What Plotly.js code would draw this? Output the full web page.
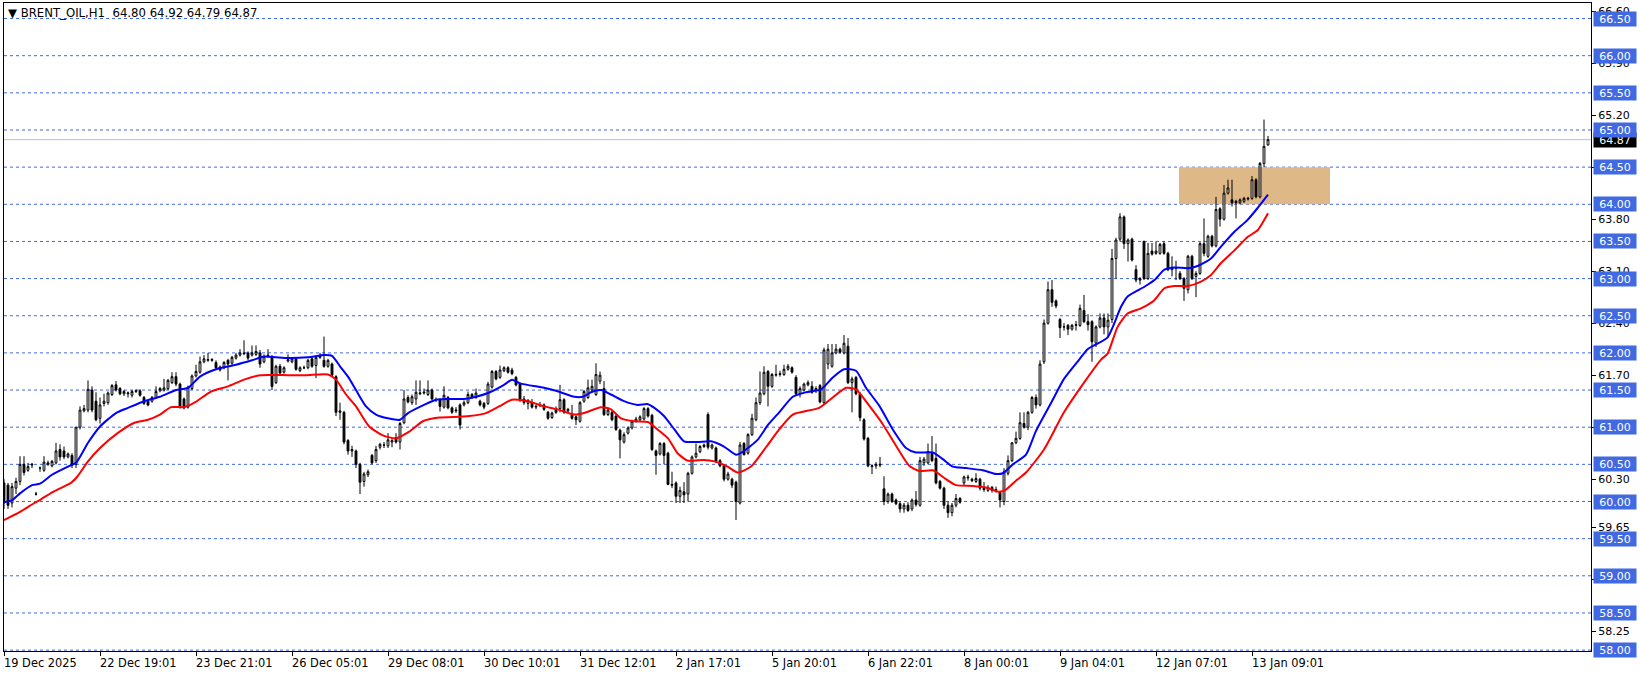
<!DOCTYPE html>
<html><head><meta charset="utf-8">
<script src="https://cdn.plot.ly/plotly-3.0.1.min.js"></script>
<style>html,body{margin:0;padding:0;background:#fff;overflow:hidden}#chart{width:1641px;height:675px}</style>
</head><body><div id="chart"></div>
<script>
// ---- data: hourly bars, index 0 = first visible bar ----
const opens=[
60.25,60.22,59.98,60.18,60.27,60.50,60.42,60.49,60.10,60.45,
60.42,60.50,60.48,60.52,60.70,60.68,60.60,60.62,60.50,61.00,
61.22,61.23,61.50,61.35,61.12,61.32,61.33,61.44,61.57,61.52,
61.45,61.45,61.43,61.48,61.49,61.40,61.35,61.35,61.40,61.49,
61.50,61.52,61.60,61.68,61.58,61.38,61.27,61.52,61.69,61.74,
61.88,61.90,61.90,61.87,61.81,61.80,61.90,61.86,61.93,61.97,
62.00,62.00,61.97,61.98,62.00,61.88,61.97,61.95,61.60,61.82,
61.74,61.89,61.88,61.92,61.76,61.80,61.80,61.92,61.83,61.94,
61.90,61.82,61.85,61.68,61.20,61.20,60.82,60.68,60.68,60.50,
60.27,60.36,60.62,60.55,60.73,60.76,60.75,60.80,60.86,60.80,
61.06,61.40,61.33,61.38,61.45,61.46,61.44,61.50,61.37,61.37,
61.27,61.40,61.26,61.22,61.30,61.30,61.33,61.44,61.40,61.35,
61.32,61.32,61.54,61.75,61.67,61.76,61.80,61.77,61.67,61.58,
61.38,61.32,61.33,61.27,61.30,61.30,61.20,61.13,61.25,61.25,
61.37,61.22,61.17,61.14,61.08,61.35,61.40,61.50,61.44,61.62,
61.52,61.17,61.20,61.15,60.96,60.80,60.92,60.99,61.08,61.10,
61.11,61.25,61.16,60.68,60.64,60.78,60.65,60.23,60.25,60.07,
60.13,60.10,60.38,60.60,60.67,60.74,61.17,60.72,60.72,60.55,
60.48,60.30,60.30,60.26,59.98,60.78,60.65,60.90,61.10,61.33,
61.45,61.75,61.55,61.70,61.71,61.71,61.78,61.80,61.67,61.45,
61.50,61.57,61.55,61.50,61.56,61.33,61.85,61.82,62.00,62.05,
62.00,62.09,61.60,61.67,61.45,61.10,60.85,60.47,60.48,60.49,
60.17,60.00,60.10,60.02,59.97,59.90,59.95,59.90,60.02,59.95,
60.52,60.52,60.65,60.58,60.27,60.18,59.95,59.85,59.95,60.04,
60.25,60.33,60.30,60.27,60.30,60.18,60.15,60.19,60.15,60.12,
60.00,60.38,60.55,60.79,60.85,61.05,61.00,61.20,61.40,61.30,
61.88,62.40,62.85,62.70,62.45,62.35,62.37,62.32,62.37,62.37,
62.57,62.42,62.42,62.13,62.35,62.47,62.35,62.45,63.27,63.53,
63.83,63.47,63.53,63.12,63.00,63.50,63.00,63.37,63.34,63.34,
63.47,63.34,63.12,63.15,63.07,63.00,62.85,63.30,63.03,63.07,
63.47,63.30,63.57,63.44,63.94,63.80,64.15,64.06,64.04,64.02,
64.04,64.07,64.08,64.33,64.10,64.55,64.80];
const highs=[
60.30,60.25,60.25,60.32,60.61,60.61,60.52,60.52,60.13,60.47,
60.61,60.55,60.56,60.79,60.77,60.74,60.66,60.65,61.00,61.28,
61.30,61.63,61.55,61.47,61.40,61.45,61.48,61.58,61.62,61.54,
61.50,61.48,61.50,61.51,61.51,61.42,61.37,61.42,61.55,61.54,
61.65,61.65,61.74,61.74,61.60,61.40,61.56,61.71,61.84,61.95,
61.97,62.00,61.93,61.90,61.83,61.89,61.92,61.96,62.00,62.05,
62.17,62.02,62.10,62.10,62.04,61.98,62.05,61.97,61.84,61.85,
61.82,61.98,61.94,61.94,61.82,61.83,61.92,61.94,61.96,62.00,
62.22,61.92,61.87,61.70,61.33,61.22,60.84,60.75,60.70,60.52,
60.40,60.43,60.64,60.75,60.79,60.80,60.92,60.85,60.92,61.07,
61.50,61.43,61.44,61.63,61.63,61.52,61.63,61.52,61.40,61.39,
61.55,61.42,61.28,61.27,61.32,61.36,61.48,61.46,61.52,61.37,
61.34,61.61,61.77,61.77,61.83,61.82,61.82,61.80,61.69,61.60,
61.42,61.38,61.38,61.30,61.34,61.32,61.22,61.21,61.28,61.57,
61.39,61.26,61.30,61.16,61.35,61.50,61.64,61.64,61.86,61.75,
61.62,61.25,61.22,61.17,60.98,60.93,61.01,61.10,61.14,61.16,
61.27,61.27,61.18,60.70,60.80,60.80,60.67,60.40,60.27,60.20,
60.26,60.40,60.62,60.78,60.76,60.78,61.20,60.78,60.74,60.57,
60.50,60.40,60.32,60.28,60.80,60.80,60.92,61.18,61.40,61.75,
61.82,61.77,61.73,61.84,61.76,61.84,61.85,61.82,61.70,61.55,
61.60,61.63,61.62,61.55,61.58,62.07,62.12,62.12,62.12,62.07,
62.24,62.20,61.68,61.69,61.47,61.12,60.87,60.50,60.53,60.60,
60.34,60.12,60.12,60.04,60.00,59.98,59.99,60.04,60.14,60.60,
60.60,60.78,60.88,60.78,60.29,60.20,60.00,59.98,60.10,60.06,
60.35,60.36,60.32,60.38,60.32,60.26,60.22,60.21,60.20,60.14,
60.45,60.62,60.80,60.94,61.20,61.20,61.22,61.42,61.44,61.90,
62.45,62.96,62.98,62.72,62.47,62.40,62.39,62.39,62.43,62.65,
62.78,62.52,62.44,62.37,62.53,62.53,62.53,63.40,63.55,63.88,
63.85,63.54,63.55,63.18,63.02,63.51,63.48,63.48,63.50,63.48,
63.50,63.36,63.30,63.24,63.10,63.02,63.32,63.32,63.10,63.49,
63.81,63.59,63.59,64.10,63.96,64.26,64.33,64.33,64.06,64.08,
64.10,64.10,64.38,64.35,64.57,65.14,64.92];
const lows=[
59.90,59.90,59.92,60.10,60.22,60.35,60.40,60.45,60.08,60.40,
60.40,60.48,60.46,60.50,60.55,60.57,60.58,60.45,60.45,60.97,
61.20,61.20,61.20,61.08,61.05,61.28,61.30,61.42,61.48,61.43,
61.42,61.40,61.40,61.46,61.41,61.30,61.28,61.33,61.38,61.47,
61.48,61.50,61.58,61.55,61.25,61.24,61.25,61.50,61.67,61.72,
61.86,61.88,61.88,61.78,61.75,61.78,61.63,61.84,61.91,61.95,
61.97,61.90,61.95,61.96,61.80,61.86,61.94,61.50,61.58,61.70,
61.72,61.87,61.86,61.76,61.74,61.78,61.78,61.80,61.66,61.92,
61.80,61.80,61.68,61.15,61.10,60.77,60.63,60.60,60.45,60.10,
60.20,60.33,60.50,60.52,60.70,60.72,60.72,60.73,60.78,60.70,
61.04,61.32,61.30,61.30,61.43,61.44,61.42,61.36,61.34,61.21,
61.25,61.24,61.18,61.19,60.97,61.28,61.31,61.38,61.38,61.28,
61.24,61.30,61.52,61.63,61.65,61.74,61.72,61.70,61.55,61.34,
61.30,61.24,61.25,61.24,61.27,61.22,61.10,61.11,61.18,61.20,
61.18,61.19,61.10,61.03,61.06,61.33,61.38,61.48,61.42,61.58,
61.15,61.15,61.08,60.95,60.58,60.78,60.90,60.97,61.06,61.08,
61.09,61.13,60.68,60.36,60.62,60.50,60.22,60.18,59.98,59.98,
59.98,60.00,60.36,60.58,60.65,60.72,60.70,60.70,60.52,60.46,
60.27,60.28,60.18,59.75,59.96,60.62,60.63,60.88,61.08,61.30,
61.43,61.28,61.53,61.68,61.68,61.69,61.76,61.72,61.43,61.40,
61.48,61.55,61.45,61.46,61.32,61.31,61.78,61.80,61.98,61.99,
61.98,61.58,61.20,61.43,61.08,60.82,60.46,60.37,60.44,60.46,
59.95,59.97,59.98,59.95,59.85,59.85,59.86,59.87,59.93,59.93,
60.48,60.50,60.53,60.23,60.16,59.90,59.78,59.80,59.92,59.97,
60.22,60.28,60.26,60.25,60.15,60.13,60.13,60.12,60.12,59.92,
59.95,60.35,60.53,60.77,60.83,60.98,60.96,61.18,61.25,61.28,
61.85,62.38,62.62,62.60,62.20,62.30,62.24,62.30,62.30,62.35,
62.40,62.30,61.88,62.08,62.33,62.25,62.22,62.40,63.00,63.50,
63.40,63.23,63.23,62.95,62.92,62.98,62.98,63.31,63.32,63.32,
63.32,63.10,63.03,62.98,62.98,62.70,62.80,62.98,62.75,63.05,
63.30,63.28,63.42,63.42,63.70,63.78,64.13,63.97,63.81,64.00,
64.02,64.05,64.06,64.08,64.08,64.50,64.79];
const closes=[
59.98,59.95,60.20,60.27,60.50,60.39,60.47,60.50,60.10,60.45,
60.53,60.52,60.54,60.68,60.60,60.60,60.64,60.49,61.00,61.23,
61.25,61.51,61.23,61.10,61.30,61.35,61.46,61.56,61.50,61.45,
61.48,61.46,61.48,61.49,61.43,61.32,61.30,61.40,61.48,61.52,
61.53,61.63,61.68,61.58,61.28,61.26,61.54,61.69,61.75,61.88,
61.92,61.91,61.91,61.80,61.77,61.87,61.85,61.94,61.97,62.00,
61.99,61.93,62.00,62.02,61.85,61.95,61.96,61.55,61.82,61.73,
61.80,61.91,61.92,61.78,61.80,61.80,61.90,61.82,61.94,61.96,
61.82,61.90,61.70,61.20,61.22,60.80,60.68,60.70,60.50,60.26,
60.37,60.40,60.52,60.70,60.77,60.76,60.83,60.82,60.80,61.05,
61.38,61.34,61.41,61.47,61.46,61.47,61.50,61.38,61.37,61.28,
61.43,61.26,61.20,61.23,61.03,61.33,61.44,61.40,61.46,61.30,
61.27,61.58,61.75,61.65,61.77,61.80,61.74,61.72,61.57,61.37,
61.33,61.36,61.27,61.28,61.29,61.24,61.12,61.19,61.20,61.37,
61.20,61.24,61.12,61.10,61.33,61.48,61.53,61.55,61.71,61.70,
61.17,61.23,61.10,60.97,60.83,60.90,60.99,61.08,61.11,61.14,
61.25,61.15,60.70,60.62,60.78,60.62,60.23,60.22,60.07,60.15,
60.09,60.38,60.60,60.65,60.74,60.76,60.73,60.76,60.54,60.48,
60.30,60.37,60.22,60.00,60.76,60.63,60.90,61.12,61.33,61.46,
61.74,61.55,61.71,61.71,61.72,61.78,61.82,61.74,61.45,61.52,
61.58,61.60,61.47,61.52,61.34,62.04,62.05,62.00,62.05,62.01,
62.13,61.60,61.65,61.45,61.13,60.84,60.48,60.48,60.50,60.50,
60.00,60.10,60.00,59.97,59.90,59.95,59.88,60.02,59.96,60.55,
60.57,60.67,60.55,60.25,60.18,59.95,59.85,59.95,60.04,59.99,
60.33,60.32,60.28,60.31,60.18,60.16,60.19,60.15,60.16,60.02,
60.40,60.55,60.79,60.85,61.06,61.00,61.20,61.40,61.30,61.85,
62.40,62.85,62.68,62.63,62.34,62.35,62.32,62.37,62.38,62.60,
62.42,62.38,62.15,62.35,62.47,62.35,62.44,63.27,63.52,63.83,
63.47,63.52,63.25,62.98,62.98,63.00,63.34,63.33,63.37,63.46,
63.34,63.12,63.15,63.14,63.00,62.87,63.30,63.00,63.07,63.47,
63.34,63.57,63.44,63.93,63.80,64.15,64.22,64.02,64.02,64.06,
64.08,64.08,64.33,64.10,64.55,64.78,64.87];

// moving averages, read at bar positions
const blueMaBars=[0,2,4,7,9,12,16,18,21,24,28,31,35,39,43,46,49,53,58,62,65,68,71,76,80,82,84,86,88,90.5,93,96,99,101,105,108,111,115,118,121,125,127,129,135,138,142.6,144.7,146.75,149.25,151.75,155,158.4,161,162.6,165,167.6,170,173.4,176.75,180,183,185,188.4,191,193.8,197.2,200.5,204.25,207.2,210,213,215.5,218.8,222.2,225.5,228,232.2,234.7,237.2,240.5,244.7,248,249.7,252.2,255.5,258,262,265,268.8,270.9,275.9,279.25,280.9,285.1,287.6,290.1,292.6,296,298.4,301.75,304.25,307.6,310.9,313.4,316];
const blueMaValues=[59.99,60.02,60.11,60.22,60.24,60.36,60.47,60.52,60.79,61.01,61.19,61.26,61.35,61.41,61.50,61.53,61.68,61.78,61.84,61.90,61.95,61.94,61.93,61.94,61.97,61.96,61.82,61.68,61.50,61.28,61.17,61.12,61.10,61.19,61.30,61.37,61.38,61.38,61.41,61.46,61.57,61.64,61.59,61.53,61.49,61.41,61.41,61.47,61.50,61.44,61.35,61.30,61.31,61.26,61.15,60.97,60.81,60.80,60.81,60.74,60.63,60.68,60.83,61.03,61.20,61.41,61.47,61.51,61.67,61.78,61.76,61.53,61.29,60.97,60.72,60.66,60.66,60.57,60.47,60.45,60.42,60.37,60.38,60.50,60.63,60.95,61.35,61.65,61.91,62.05,62.21,62.62,62.76,62.89,62.98,63.12,63.15,63.14,63.17,63.27,63.43,63.63,63.79,63.95,64.13];
const redMaBars=[0,4,7.6,9.25,12.6,16.75,18.4,21,24,28.4,32.6,36,39,41.75,45,47.6,51.75,56,60,64,71,75.5,81,83,85.5,88,91.3,94.7,98,101.3,104.7,108.8,113.8,116.3,120.5,123.8,127,131,135,138.4,142.6,145,149.25,151.75,154.25,157.6,161,163.4,166,168.4,170.9,175,177.6,180.9,183.4,186.75,190.5,193.8,197.2,203.8,207.2,210.5,213,216.3,219.7,223,226.3,228.8,232.2,235.5,238,242.2,245.5,248.8,250.5,253,255.5,260,265,270,274.25,275.9,278.4,280.9,284.25,287.6,290.1,292.6,296,299.25,301.75,304.25,307.6,310.9,313.4,316];
const redMaValues=[59.75,59.86,59.98,60.03,60.14,60.25,60.34,60.54,60.72,60.92,61.06,61.10,61.17,61.27,61.27,61.33,61.48,61.55,61.64,61.70,61.70,61.70,61.71,61.64,61.44,61.28,61.01,60.89,60.85,60.94,61.08,61.13,61.14,61.15,61.19,61.28,61.37,61.35,61.28,61.24,61.17,61.19,61.27,61.24,61.12,61.08,61.07,60.97,60.85,60.65,60.55,60.56,60.54,60.47,60.39,60.47,60.73,60.97,61.17,61.26,61.40,61.53,61.51,61.29,61.04,60.75,60.48,60.41,60.42,60.30,60.22,60.21,60.19,60.13,60.16,60.28,60.39,60.70,61.20,61.60,61.91,61.99,62.35,62.53,62.60,62.71,62.87,62.90,62.90,62.96,63.05,63.21,63.38,63.56,63.65,63.88];

const timeTickBars=[0,24,48,72,96,120,144,168,192,216,240,264,288,312];
const timeTickText=["19 Dec 2025","22 Dec 19:01","23 Dec 21:01","26 Dec 05:01","29 Dec 08:01","30 Dec 10:01","31 Dec 12:01","2 Jan 17:01","5 Jan 20:01","6 Jan 22:01","8 Jan 00:01","9 Jan 04:01","12 Jan 07:01","13 Jan 09:01"];
const priceTickVals=[66.60,65.90,65.20,64.50,63.80,63.10,62.40,61.70,61.00,60.30,59.65,58.95,58.25];
const priceTickText=["66.60","65.90","65.20","64.50","63.80","63.10","62.40","61.70","61.00","60.30","59.65","58.95","58.25"];
const levelPrices=[58.00,58.50,59.00,59.50,60.00,60.50,61.00,61.50,62.00,62.50,63.00,63.50,64.00,64.50,65.00,65.50,66.00,66.50];
const lastPrice=64.87;
const zonePrices=[64.00,64.50];
const zoneBars=[293.75,331.5];
const headerText="\u25BC BRENT_OIL,H1\u00A0\u00A064.80 64.92 64.79 64.87";

// ---- styles ----
const FONT="DejaVu Sans";
const LEVEL_BLUE="#4169E1";
const barIdx=opens.map((_,i)=>i);

const traces=[
 {type:"candlestick",x:barIdx,open:opens,high:highs,low:lows,close:closes,
  increasing:{line:{color:"#000000",width:1},fillcolor:"#FFFFFF"},
  decreasing:{line:{color:"#000000",width:1},fillcolor:"#000000"},
  whiskerwidth:0,hoverinfo:"skip",showlegend:false},
 {type:"scatter",mode:"lines",x:blueMaBars,y:blueMaValues,line:{color:"#0000FF",width:2,shape:"spline",smoothing:0.6},hoverinfo:"skip",showlegend:false},
 {type:"scatter",mode:"lines",x:redMaBars,y:redMaValues,line:{color:"#FF0000",width:2,shape:"spline",smoothing:0.6},hoverinfo:"skip",showlegend:false}
];

const shapes=[];
shapes.push({type:"rect",layer:"below",xref:"x",yref:"y",x0:zoneBars[0],x1:zoneBars[1],y0:zonePrices[0],y1:zonePrices[1],fillcolor:"#DEB887",line:{width:0}});
levelPrices.forEach(p=>shapes.push({type:"line",layer:"below",xref:"paper",yref:"y",x0:0,x1:1,y0:p,y1:p,line:{color:LEVEL_BLUE,width:1,dash:"3px,3px"}}));
shapes.push({type:"line",layer:"below",xref:"paper",yref:"y",x0:0,x1:1,y0:lastPrice,y1:lastPrice,line:{color:"#C0C0C0",width:1}});

const annotations=[];
annotations.push({xref:"paper",yref:"paper",x:0,y:1,xanchor:"left",yanchor:"top",xshift:2,yshift:-1,showarrow:false,text:headerText,font:{family:FONT,size:11.7,color:"#000"}});
timeTickBars.forEach((b,k)=>annotations.push({xref:"x",yref:"paper",x:b,y:0,xanchor:"left",yanchor:"top",xshift:-2,yshift:-3,showarrow:false,text:timeTickText[k],font:{family:FONT,size:11.4,color:"#000"}}));
annotations.push({xref:"paper",yref:"y",x:1,y:lastPrice,xanchor:"left",yanchor:"middle",xshift:2,showarrow:false,text:lastPrice.toFixed(2),width:40,height:12,borderpad:1,bgcolor:"#000000",font:{family:FONT,size:11,color:"#FFFFFF"}});
levelPrices.forEach(p=>annotations.push({xref:"paper",yref:"y",x:1,y:p,xanchor:"left",yanchor:"middle",xshift:2,showarrow:false,text:p.toFixed(2),width:40,height:12,borderpad:1,bgcolor:LEVEL_BLUE,font:{family:FONT,size:11,color:"#FFFFFF"}}));

const layout={
 width:1641,height:675,paper_bgcolor:"#FFFFFF",plot_bgcolor:"#FFFFFF",
 margin:{l:4,r:50,t:3,b:24,pad:0},
 showlegend:false,boxgap:0.35,
 font:{family:FONT,size:11,color:"#000"},
 xaxis:{range:[0,396.75],showgrid:false,zeroline:false,showline:true,mirror:true,linecolor:"#000",linewidth:1,
   ticks:"outside",ticklen:4,tickcolor:"#000",tickvals:timeTickBars,showticklabels:false,rangeslider:{visible:false},fixedrange:true},
 yaxis:{range:[57.988,66.709],side:"right",showgrid:false,zeroline:false,showline:true,mirror:true,linecolor:"#000",linewidth:1,
   ticks:"outside",ticklen:4,tickcolor:"#000",tickvals:priceTickVals,ticktext:priceTickText,tickfont:{family:FONT,size:11,color:"#000"},fixedrange:true},
 shapes:shapes,annotations:annotations
};
Plotly.newPlot("chart",traces,layout,{displayModeBar:false,staticPlot:true});
</script></body></html>
